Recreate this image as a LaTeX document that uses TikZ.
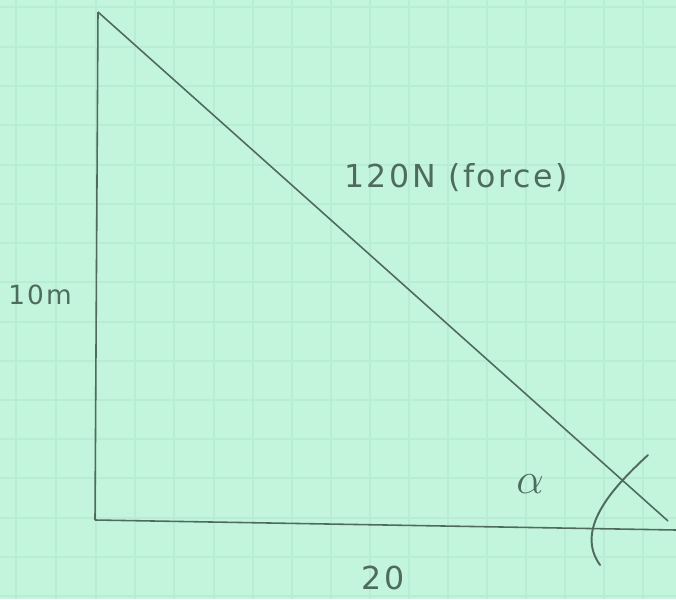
\documentclass[tikz,border=0pt]{standalone}
\usepackage{fontspec}
\usepackage{tikz}
\usetikzlibrary{positioning,calc}
\newfontfamily\hand[LetterSpace=8]{DejaVu Sans}
\definecolor{paper}{HTML}{C3F5DD}
\definecolor{gridline}{HTML}{B9EDD3}
\definecolor{pencil}{HTML}{4F6B5C}
\begin{document}
\begin{tikzpicture}[x=0.02cm, y=-0.02cm,
        side/.style={draw=pencil, line width=0.9pt},
        arcmark/.style={draw=pencil, line width=1.1pt, line cap=round},
        sidelabel/.style={text=pencil, font=\hand\fontsize{18}{22}\selectfont, inner sep=1pt},
      ]
      \fill [paper] (0,0) rectangle (676,599);
      \useasboundingbox (0,0) rectangle (676,599);
      \foreach \gx in {16,56,96,135,174,214,253,292,331,370,409,448,487,526,565,604,643}
        \draw [gridline, line width=0.6pt] (\gx,0) -- (\gx,599);
      \foreach \gy in {7,47,86,125,165,204,243,282,322,361,400,439,478,518,557,596}
        \draw [gridline, line width=0.6pt] (0,\gy) -- (676,\gy);
      \coordinate (top) at (98,12);
      \coordinate (corner) at (95,520);
      \coordinate (right) at (668,521);
      \coordinate (edge) at (676,530);
      \draw [side] (top) -- (corner);
      \draw [side] (corner) -- (edge);
      \draw [side] (top) -- (right);
      \node [sidelabel] (force) at (456,178) {120N (force)};
      \node [sidelabel, font=\hand\fontsize{15}{18}\selectfont] (height) at (40,295) {10m};
      \node [sidelabel] (base) at (383,578) {20};
      \node [sidelabel, font=\fontsize{30}{34}\selectfont] (angle) at (530,484) {$\alpha$};
      \draw [arcmark] (648,455) .. controls (610,490) and (575,530) .. (600,565);
    \end{tikzpicture}
\end{document}
